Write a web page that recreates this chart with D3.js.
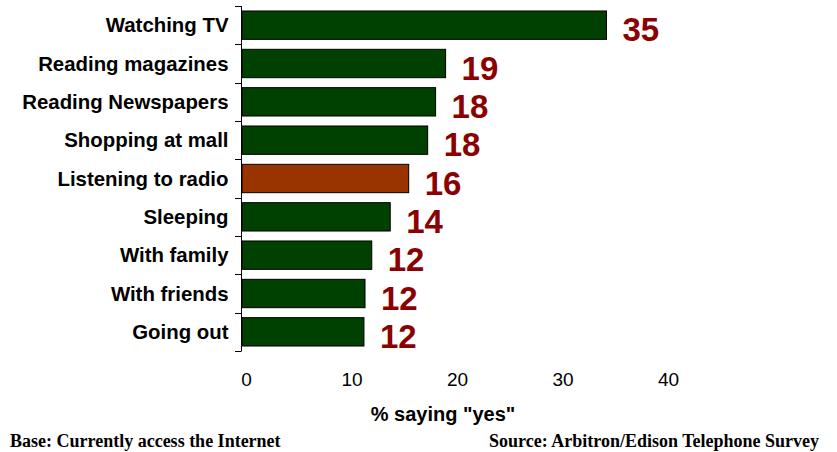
<!DOCTYPE html>
<html>
<head>
<meta charset="utf-8">
<script src="https://cdn.jsdelivr.net/npm/d3@7/dist/d3.min.js"></script>
<style>
  html, body { margin: 0; padding: 0; background: #fff; }
  svg { display: block; }
</style>
</head>
<body>
<svg id="chart" width="837" height="452"></svg>
<script>
const categories = ["Watching TV", "Reading magazines", "Reading Newspapers", "Shopping at mall",
  "Listening to radio", "Sleeping", "With family", "With friends", "Going out"];
const values = [34.55, 19.3, 18.35, 17.6, 15.8, 14.05, 12.3, 11.66, 11.56];
const highlight = ["Listening to radio"];
const xTicks = [0, 10, 20, 30, 40];
const xTitle = '% saying "yes"';
const footLeft = "Base: Currently access the Internet";
const footRight = "Source: Arbitron/Edison Telephone Survey";

const svg = d3.select("#chart");
const x = d3.scaleLinear().domain([0, 40]).range([242, 664]);
const y = d3.scaleBand().domain(categories).range([6, 351]).paddingInner(0.26).paddingOuter(0.13);

// bars
svg.append("g").selectAll("rect").data(categories).join("rect")
  .attr("x", x(0))
  .attr("y", d => y(d))
  .attr("width", (d, i) => x(values[i]) - x(0))
  .attr("height", y.bandwidth())
  .attr("fill", d => highlight.includes(d) ? "#993300" : "#004000")
  .attr("stroke", "#000")
  .attr("stroke-width", 1);

// value labels
svg.append("g").selectAll("text").data(categories).join("text")
  .attr("x", (d, i) => x(values[i]) + 16)
  .attr("y", d => y(d) + y.bandwidth() / 2 + 16)
  .attr("font-family", "Liberation Sans, Arial, sans-serif")
  .attr("font-weight", "bold")
  .attr("font-size", 33)
  .attr("fill", "#8B0000")
  .text((d, i) => Math.round(values[i]));

// y axis line & ticks at band boundaries
const yAxisG = svg.append("g");
const r = y.range();
yAxisG.append("line").attr("x1", 241.5).attr("x2", 241.5).attr("y1", r[0]).attr("y2", r[1])
  .attr("stroke", "#000").attr("stroke-width", 1);
const step = y.step();
const bounds = d3.range(categories.length + 1).map(i => r[0] + i * step);
yAxisG.selectAll("line.tick").data(bounds).join("line").attr("class", "tick")
  .attr("x1", 235).attr("x2", 241.5)
  .attr("y1", d => Math.round(d) + 0.5).attr("y2", d => Math.round(d) + 0.5)
  .attr("stroke", "#000").attr("stroke-width", 1);

// category labels
svg.append("g").selectAll("text").data(categories).join("text")
  .attr("x", 228.5)
  .attr("y", d => y(d) + y.bandwidth() / 2 + 7)
  .attr("text-anchor", "end")
  .attr("font-family", "Liberation Sans, Arial, sans-serif")
  .attr("font-weight", "bold")
  .attr("font-size", 20.4)
  .attr("fill", "#000")
  .text(d => d);

// x axis (labels only)
const xAxis = d3.axisBottom(x).tickValues(xTicks).tickSize(0).tickPadding(0);
const xg = svg.append("g").attr("transform", "translate(4,372)").call(xAxis);
xg.select(".domain").remove();
xg.selectAll("text")
  .attr("font-family", "Liberation Sans, Arial, sans-serif")
  .attr("font-size", 19)
  .attr("fill", "#000");

svg.append("text")
  .attr("x", 443).attr("y", 421)
  .attr("text-anchor", "middle")
  .attr("font-family", "Liberation Sans, Arial, sans-serif")
  .attr("font-weight", "bold")
  .attr("font-size", 20)
  .text(xTitle);

svg.append("text")
  .attr("x", 10).attr("y", 447)
  .attr("font-family", "Liberation Serif, Times New Roman, serif")
  .attr("font-weight", "bold")
  .attr("font-size", 18)
  .text(footLeft);
svg.append("text")
  .attr("x", 819).attr("y", 447)
  .attr("text-anchor", "end")
  .attr("font-family", "Liberation Serif, Times New Roman, serif")
  .attr("font-weight", "bold")
  .attr("font-size", 18)
  .text(footRight);
</script>
</body>
</html>
